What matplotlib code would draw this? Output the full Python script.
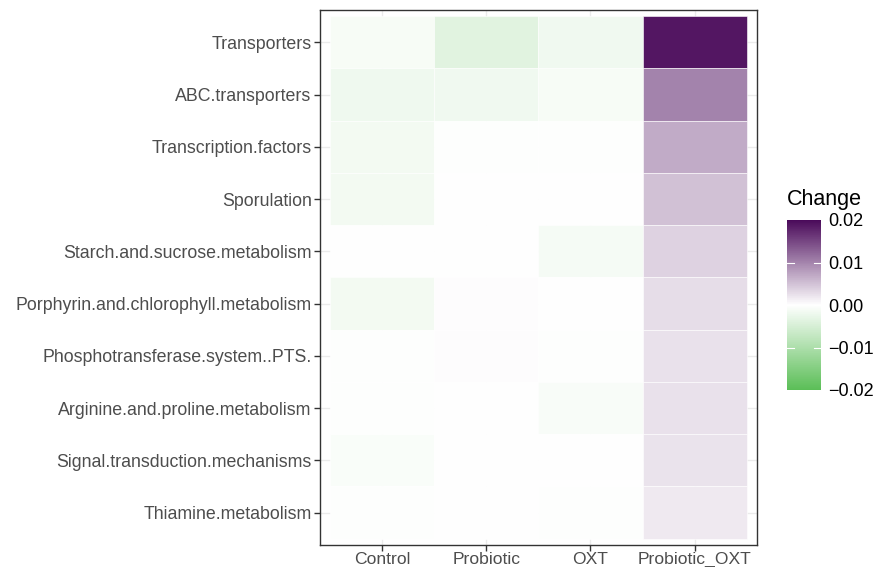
import matplotlib.pyplot as plt
import numpy as np
from matplotlib.colors import LinearSegmentedColormap, Normalize

# pathways, top to bottom
pathways = ['Transporters', 'ABC.transporters', 'Transcription.factors', 'Sporulation',
            'Starch.and.sucrose.metabolism', 'Porphyrin.and.chlorophyll.metabolism',
            'Phosphotransferase.system..PTS.', 'Arginine.and.proline.metabolism',
            'Signal.transduction.mechanisms', 'Thiamine.metabolism']
groups = ['Control', 'Probiotic', 'OXT', 'Probiotic_OXT']

# change per group (one list per column, same order as pathways)
control = [-0.0010, -0.0020, -0.0015, -0.0015, 0.0000, -0.0015, -0.0003, -0.0003, -0.0007, -0.0003]
probiotic = [-0.0036, -0.0018, -0.0003, 0.0000, 0.0001, 0.0002, 0.0003, 0.0001, 0.0000, 0.0001]
oxt = [-0.0018, -0.0010, -0.0003, 0.0000, -0.0012, 0.0000, -0.0003, -0.0008, 0.0000, -0.0002]
probiotic_oxt = [0.0190, 0.0100, 0.0068, 0.0050, 0.0036, 0.0027, 0.0024, 0.0024, 0.0022, 0.0018]

values = np.array([control, probiotic, oxt, probiotic_oxt]).T

plt.rcParams['font.family'] = ['Liberation Sans', 'DejaVu Sans']

cmap = LinearSegmentedColormap.from_list('gwp', ['#5BBE57', '#FFFFFF', '#4A0A5A'])
norm = Normalize(vmin=-0.02, vmax=0.02)

fig = plt.figure(figsize=(8.8, 5.67), dpi=100)
ax = fig.add_axes([0.3636, 0.0388, 0.4966, 0.9436])

# grid lines behind tiles
ax.set_axisbelow(True)
ax.grid(True, color='#EBEBEB', linewidth=1.0)

n_rows = len(pathways)
for i in range(n_rows):
    for j in range(len(groups)):
        y = n_rows - 1 - i
        ax.add_patch(plt.Rectangle((j - 0.5, y - 0.5), 1, 1,
                                   facecolor=cmap(norm(values[i, j])),
                                   edgecolor='white', linewidth=0.4, zorder=2))

ax.set_xlim(-0.6, len(groups) - 0.4)
ax.set_ylim(-0.62, n_rows - 0.38)
ax.set_xticks(range(len(groups)))
ax.set_xticklabels(groups)
ax.set_yticks(range(n_rows))
ax.set_yticklabels(pathways[::-1])
ax.tick_params(axis='both', length=4, width=1, color='#333333',
               labelcolor='#4D4D4D', labelsize=12.8, pad=2)
ax.tick_params(axis='x', labelsize=12.6, pad=1)
for s in ax.spines.values():
    s.set_color('#333333')
    s.set_linewidth(1.0)

# colourbar
cax = fig.add_axes([787 / 880, 1 - 390 / 567, 34 / 880, 170 / 567])
sm = plt.cm.ScalarMappable(cmap=cmap, norm=norm)
cb = fig.colorbar(sm, cax=cax, ticks=[-0.02, -0.01, 0.0, 0.01, 0.02])
cb.ax.set_yticklabels(['\u22120.02', '\u22120.01', '0.00', '0.01', '0.02'])
cb.outline.set_visible(False)
cb.ax.tick_params(length=0, labelsize=13, labelcolor='black', pad=5)
for t in [-0.01, 0.0, 0.01]:
    cb.ax.plot([0, 0.2], [t, t], color='white', linewidth=0.8)
    cb.ax.plot([0.8, 1], [t, t], color='white', linewidth=0.8)
cb.ax.set_xlim(0, 1)
fig.text(787 / 880, 1 - 200 / 567, 'Change', fontsize=15.5, va='center', ha='left')

plt.savefig('out.png', dpi=100)
